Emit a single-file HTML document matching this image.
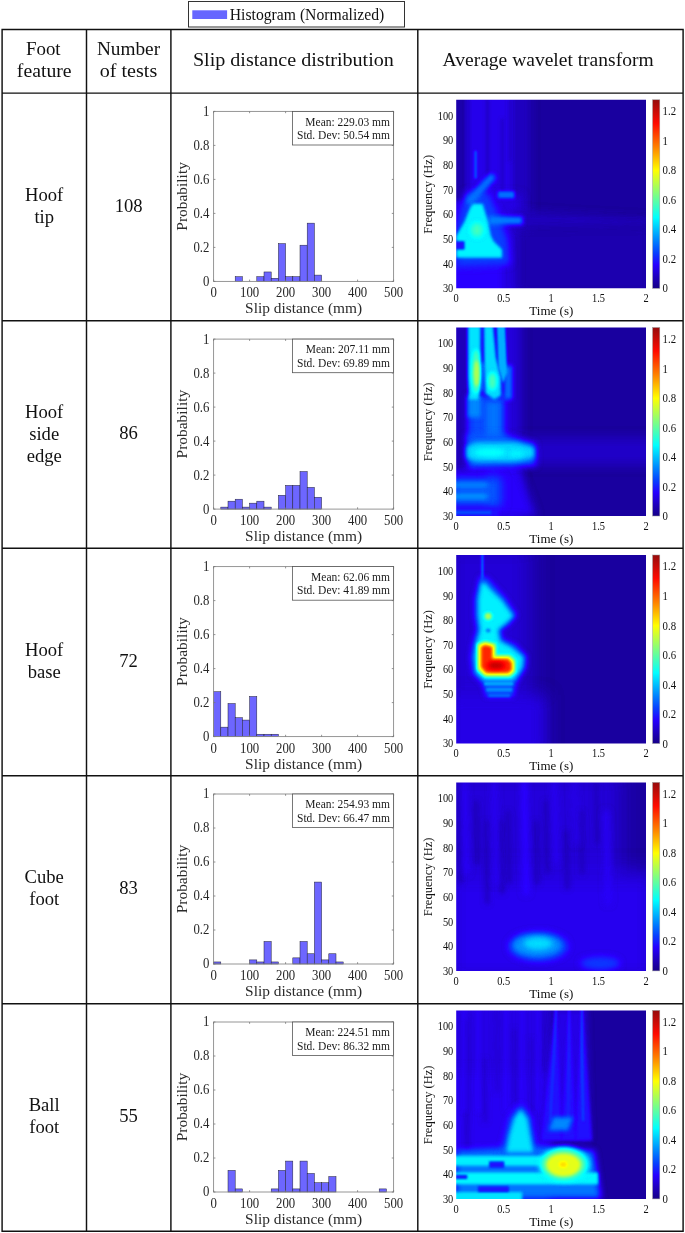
<!DOCTYPE html><html><head><meta charset="utf-8"><style>html,body{margin:0;padding:0;background:#fff;} svg{display:block;} text{font-family:'Liberation Serif', 'DejaVu Serif', serif;}</style></head><body>
<svg width="685" height="1233" viewBox="0 0 685 1233">
<defs>
<filter id="jet" x="0" y="0" width="1" height="1" color-interpolation-filters="sRGB"><feComponentTransfer><feFuncR type="table" tableValues="0.08 0.12 0.16 0.03 0 0 0 0.25 0.5 0.75 1 1 1 1 1 0.75 0.5"/><feFuncG type="table" tableValues="0 0 0 0.25 0.5 0.75 1 1 1 1 1 0.75 0.5 0.25 0 0 0"/><feFuncB type="table" tableValues="0.5 0.75 1 1 1 1 1 0.75 0.5 0.25 0 0 0 0 0 0 0"/></feComponentTransfer></filter>
<filter id="b0.8" filterUnits="userSpaceOnUse" x="-60" y="-60" width="320" height="320" color-interpolation-filters="sRGB"><feGaussianBlur stdDeviation="0.8"/></filter>
<filter id="b1" filterUnits="userSpaceOnUse" x="-60" y="-60" width="320" height="320" color-interpolation-filters="sRGB"><feGaussianBlur stdDeviation="1"/></filter>
<filter id="b1.2" filterUnits="userSpaceOnUse" x="-60" y="-60" width="320" height="320" color-interpolation-filters="sRGB"><feGaussianBlur stdDeviation="1.2"/></filter>
<filter id="b1.5" filterUnits="userSpaceOnUse" x="-60" y="-60" width="320" height="320" color-interpolation-filters="sRGB"><feGaussianBlur stdDeviation="1.5"/></filter>
<filter id="b1.7" filterUnits="userSpaceOnUse" x="-60" y="-60" width="320" height="320" color-interpolation-filters="sRGB"><feGaussianBlur stdDeviation="1.7"/></filter>
<filter id="b1.8" filterUnits="userSpaceOnUse" x="-60" y="-60" width="320" height="320" color-interpolation-filters="sRGB"><feGaussianBlur stdDeviation="1.8"/></filter>
<filter id="b2" filterUnits="userSpaceOnUse" x="-60" y="-60" width="320" height="320" color-interpolation-filters="sRGB"><feGaussianBlur stdDeviation="2"/></filter>
<filter id="b2.2" filterUnits="userSpaceOnUse" x="-60" y="-60" width="320" height="320" color-interpolation-filters="sRGB"><feGaussianBlur stdDeviation="2.2"/></filter>
<filter id="b2.5" filterUnits="userSpaceOnUse" x="-60" y="-60" width="320" height="320" color-interpolation-filters="sRGB"><feGaussianBlur stdDeviation="2.5"/></filter>
<filter id="b3" filterUnits="userSpaceOnUse" x="-60" y="-60" width="320" height="320" color-interpolation-filters="sRGB"><feGaussianBlur stdDeviation="3"/></filter>
<filter id="b3.5" filterUnits="userSpaceOnUse" x="-60" y="-60" width="320" height="320" color-interpolation-filters="sRGB"><feGaussianBlur stdDeviation="3.5"/></filter>
<filter id="b4" filterUnits="userSpaceOnUse" x="-60" y="-60" width="320" height="320" color-interpolation-filters="sRGB"><feGaussianBlur stdDeviation="4"/></filter>
<filter id="b5" filterUnits="userSpaceOnUse" x="-60" y="-60" width="320" height="320" color-interpolation-filters="sRGB"><feGaussianBlur stdDeviation="5"/></filter>
<filter id="b6" filterUnits="userSpaceOnUse" x="-60" y="-60" width="320" height="320" color-interpolation-filters="sRGB"><feGaussianBlur stdDeviation="6"/></filter>
<filter id="b8" filterUnits="userSpaceOnUse" x="-60" y="-60" width="320" height="320" color-interpolation-filters="sRGB"><feGaussianBlur stdDeviation="8"/></filter>
<filter id="b10" filterUnits="userSpaceOnUse" x="-60" y="-60" width="320" height="320" color-interpolation-filters="sRGB"><feGaussianBlur stdDeviation="10"/></filter>
<linearGradient id="cbar" x1="0" y1="1" x2="0" y2="0"><stop offset="0" stop-color="rgb(22,0,135)"/><stop offset="0.0625" stop-color="rgb(31,0,191)"/><stop offset="0.125" stop-color="rgb(38,0,255)"/><stop offset="0.1875" stop-color="rgb(8,64,255)"/><stop offset="0.25" stop-color="rgb(0,128,255)"/><stop offset="0.375" stop-color="rgb(0,255,255)"/><stop offset="0.5" stop-color="rgb(128,255,128)"/><stop offset="0.625" stop-color="rgb(255,255,0)"/><stop offset="0.75" stop-color="rgb(255,128,0)"/><stop offset="0.875" stop-color="rgb(255,10,0)"/><stop offset="1" stop-color="rgb(150,12,12)"/></linearGradient>
<clipPath id="hc0"><rect x="456.2" y="99.80" width="189.8" height="188.5"/></clipPath>
<clipPath id="hc1"><rect x="456.2" y="327.50" width="189.8" height="188.5"/></clipPath>
<clipPath id="hc2"><rect x="456.2" y="555.00" width="189.8" height="188.5"/></clipPath>
<clipPath id="hc3"><rect x="456.2" y="782.40" width="189.8" height="188.5"/></clipPath>
<clipPath id="hc4"><rect x="456.2" y="1010.40" width="189.8" height="188.5"/></clipPath>
</defs>
<rect x="188.5" y="1.5" width="216" height="25.5" fill="#fff" stroke="#333" stroke-width="1"/>
<rect x="192.3" y="10.3" width="34.8" height="8.7" fill="#6666ff"/>
<text x="229.80" y="19.70" font-size="16.3" text-anchor="start" textLength="154.5" lengthAdjust="spacingAndGlyphs" fill="#111">Histogram (Normalized)</text>
<text x="43.30" y="55.00" font-size="18.6" text-anchor="middle" textLength="34.6" lengthAdjust="spacingAndGlyphs" fill="#111">Foot</text>
<text x="44.20" y="77.00" font-size="18.6" text-anchor="middle" textLength="54.7" lengthAdjust="spacingAndGlyphs" fill="#111">feature</text>
<text x="128.50" y="55.00" font-size="18.6" text-anchor="middle" textLength="63.2" lengthAdjust="spacingAndGlyphs" fill="#111">Number</text>
<text x="128.50" y="76.80" font-size="18.6" text-anchor="middle" textLength="57.4" lengthAdjust="spacingAndGlyphs" fill="#111">of tests</text>
<text x="293.40" y="66.20" font-size="18.6" text-anchor="middle" textLength="201" lengthAdjust="spacingAndGlyphs" fill="#111">Slip distance distribution</text>
<text x="548.10" y="66.20" font-size="18.6" text-anchor="middle" textLength="211" lengthAdjust="spacingAndGlyphs" fill="#111">Average wavelet transform</text>
<text x="44.20" y="200.80" font-size="18.6" text-anchor="middle"  fill="#111">Hoof</text>
<text x="44.20" y="222.80" font-size="18.6" text-anchor="middle"  fill="#111">tip</text>
<text x="128.60" y="211.70" font-size="18.6" text-anchor="middle"  fill="#111">108</text>
<rect x="235.20" y="276.68" width="7.20" height="4.72" fill="#6d66ff" stroke="#223" stroke-width="0.5"/>
<rect x="256.80" y="276.68" width="7.20" height="4.72" fill="#6d66ff" stroke="#223" stroke-width="0.5"/>
<rect x="264.00" y="271.96" width="7.20" height="9.44" fill="#6d66ff" stroke="#223" stroke-width="0.5"/>
<rect x="271.20" y="278.25" width="7.20" height="3.15" fill="#6d66ff" stroke="#223" stroke-width="0.5"/>
<rect x="278.40" y="243.62" width="7.20" height="37.78" fill="#6d66ff" stroke="#223" stroke-width="0.5"/>
<rect x="285.60" y="276.68" width="7.20" height="4.72" fill="#6d66ff" stroke="#223" stroke-width="0.5"/>
<rect x="292.80" y="276.68" width="7.20" height="4.72" fill="#6d66ff" stroke="#223" stroke-width="0.5"/>
<rect x="300.00" y="245.20" width="7.20" height="36.20" fill="#6d66ff" stroke="#223" stroke-width="0.5"/>
<rect x="307.20" y="223.16" width="7.20" height="58.24" fill="#6d66ff" stroke="#223" stroke-width="0.5"/>
<rect x="314.40" y="275.10" width="7.20" height="6.30" fill="#6d66ff" stroke="#223" stroke-width="0.5"/>
<rect x="213.6" y="111.40" width="180" height="170" fill="none" stroke="#8a8a8a" stroke-width="0.9"/>
<text x="0.00" y="0.00" font-size="12.8" text-anchor="middle" fill="#262626" transform="translate(213.60 297.30) scale(1 1.1)">0</text>
<text x="0.00" y="0.00" font-size="12.8" text-anchor="middle" fill="#262626" transform="translate(249.60 297.30) scale(1 1.1)">100</text>
<text x="0.00" y="0.00" font-size="12.8" text-anchor="middle" fill="#262626" transform="translate(285.60 297.30) scale(1 1.1)">200</text>
<text x="0.00" y="0.00" font-size="12.8" text-anchor="middle" fill="#262626" transform="translate(321.60 297.30) scale(1 1.1)">300</text>
<text x="0.00" y="0.00" font-size="12.8" text-anchor="middle" fill="#262626" transform="translate(357.60 297.30) scale(1 1.1)">400</text>
<text x="0.00" y="0.00" font-size="12.8" text-anchor="middle" fill="#262626" transform="translate(393.60 297.30) scale(1 1.1)">500</text>
<text x="0.00" y="0.00" font-size="12.8" text-anchor="end" fill="#262626" transform="translate(209.4 285.80) scale(1 1.1)">0</text>
<text x="0.00" y="0.00" font-size="12.8" text-anchor="end" fill="#262626" transform="translate(209.4 251.80) scale(1 1.1)">0.2</text>
<text x="0.00" y="0.00" font-size="12.8" text-anchor="end" fill="#262626" transform="translate(209.4 217.80) scale(1 1.1)">0.4</text>
<text x="0.00" y="0.00" font-size="12.8" text-anchor="end" fill="#262626" transform="translate(209.4 183.80) scale(1 1.1)">0.6</text>
<text x="0.00" y="0.00" font-size="12.8" text-anchor="end" fill="#262626" transform="translate(209.4 149.80) scale(1 1.1)">0.8</text>
<text x="0.00" y="0.00" font-size="12.8" text-anchor="end" fill="#262626" transform="translate(209.4 115.80) scale(1 1.1)">1</text>
<path d="M213.60 281.40v-1.8M213.60 111.40v1.8M249.60 281.40v-1.8M249.60 111.40v1.8M285.60 281.40v-1.8M285.60 111.40v1.8M321.60 281.40v-1.8M321.60 111.40v1.8M357.60 281.40v-1.8M357.60 111.40v1.8M393.60 281.40v-1.8M393.60 111.40v1.8M213.6 281.40h1.8M393.6 281.40h-1.8M213.6 247.40h1.8M393.6 247.40h-1.8M213.6 213.40h1.8M393.6 213.40h-1.8M213.6 179.40h1.8M393.6 179.40h-1.8M213.6 145.40h1.8M393.6 145.40h-1.8M213.6 111.40h1.8M393.6 111.40h-1.8" stroke="#777" stroke-width="0.8" fill="none"/>
<rect x="292.4" y="111.40" width="101.2" height="33.6" fill="#fff" stroke="#555" stroke-width="0.8"/>
<text x="390.00" y="125.50" font-size="11.5" text-anchor="end" fill="#1a1a1a">Mean: 229.03 mm</text>
<text x="390.00" y="139.00" font-size="11.5" text-anchor="end" fill="#1a1a1a">Std. Dev: 50.54 mm</text>
<text x="303.60" y="313.30" font-size="15" text-anchor="middle" textLength="117" lengthAdjust="spacingAndGlyphs" fill="#2a2a2a">Slip distance (mm)</text>
<text x="0.00" y="0.00" font-size="15" text-anchor="middle" fill="#2a2a2a" textLength="68.6" lengthAdjust="spacingAndGlyphs" transform="translate(187.2 196.40) rotate(-90)">Probability</text>
<g clip-path="url(#hc0)"><g filter="url(#jet)" transform="translate(456.2 99.80)">
<rect x="-10" y="-10" width="209.8" height="208.5" fill="rgb(10,10,10)"/>
<rect x="-20" y="-20" width="230" height="230" fill="rgb(8,8,8)"/><rect x="8" y="-10" width="52" height="120" fill="rgb(27,27,27)" filter="url(#b3)"/><rect x="58" y="-10" width="16" height="200" fill="rgb(17,17,17)" filter="url(#b4)"/><rect x="-10" y="95" width="75" height="110" fill="rgb(26,26,26)" filter="url(#b4)"/><rect x="-10" y="-10" width="18" height="110" fill="rgb(11,11,11)" filter="url(#b2)"/><polyline points="12,0 12,90" fill="none" stroke="rgb(19,19,19)" stroke-width="3" stroke-linecap="round" filter="url(#b1.5)"/><polyline points="31,0 31,80" fill="none" stroke="rgb(18,18,18)" stroke-width="3" stroke-linecap="round" filter="url(#b1.5)"/><polyline points="46,20 46,90" fill="none" stroke="rgb(19,19,19)" stroke-width="3" stroke-linecap="round" filter="url(#b1.5)"/><polyline points="54,0 54,60" fill="none" stroke="rgb(20,20,20)" stroke-width="3" stroke-linecap="round" filter="url(#b1.5)"/><polygon points="55,111 120,115 195,119 195,126 120,128 55,129" fill="rgb(17,17,17)" filter="url(#b4)"/><polygon points="60,128 195,126 195,195 60,195" fill="rgb(12,12,12)" filter="url(#b6)"/><rect x="-10" y="163" width="56" height="30" fill="rgb(32,32,32)" filter="url(#b2.5)"/><polyline points="19.4,52 19.4,78" fill="none" stroke="rgb(56,56,56)" stroke-width="2.5" stroke-linecap="round" filter="url(#b1)"/><polygon points="10,92 32,92 44,118 52,140 54,165 0,167 0,128 4,110" fill="rgb(48,48,48)" filter="url(#b3.5)"/><polyline points="35,78 24,90 14,101" fill="none" stroke="rgb(61,61,61)" stroke-width="8" stroke-linecap="round" filter="url(#b2)"/><rect x="41.6" y="91.5" width="16.7" height="7" fill="rgb(61,61,61)" filter="url(#b1.5)"/><rect x="32" y="116.5" width="34.6" height="8.3" fill="rgb(64,64,64)" filter="url(#b2)"/><polygon points="16.6,104 26.4,104 31.9,122 34.7,135.9 37.4,141.4 45.8,149.7 45.8,158 0,158 0,135.9 8.3,122 13.9,108" fill="rgb(93,93,93)" filter="url(#b1.7)"/><rect x="-2" y="141.4" width="10.3" height="8.3" fill="rgb(36,36,36)" filter="url(#b1)"/><ellipse cx="20.8" cy="130.3" rx="6" ry="7" fill="rgb(112,112,112)" filter="url(#b2.5)"/>
</g></g>
<rect x="652.6" y="99.80" width="7.2" height="188.5" fill="url(#cbar)" stroke="#999" stroke-width="0.5"/>
<text x="0.00" y="0.00" font-size="10.4" text-anchor="end" transform="translate(453.3 292.20) scale(1 1.15)" fill="#111">30</text>
<text x="0.00" y="0.00" font-size="10.4" text-anchor="end" transform="translate(453.3 267.56) scale(1 1.15)" fill="#111">40</text>
<text x="0.00" y="0.00" font-size="10.4" text-anchor="end" transform="translate(453.3 242.92) scale(1 1.15)" fill="#111">50</text>
<text x="0.00" y="0.00" font-size="10.4" text-anchor="end" transform="translate(453.3 218.28) scale(1 1.15)" fill="#111">60</text>
<text x="0.00" y="0.00" font-size="10.4" text-anchor="end" transform="translate(453.3 193.64) scale(1 1.15)" fill="#111">70</text>
<text x="0.00" y="0.00" font-size="10.4" text-anchor="end" transform="translate(453.3 169.00) scale(1 1.15)" fill="#111">80</text>
<text x="0.00" y="0.00" font-size="10.4" text-anchor="end" transform="translate(453.3 144.36) scale(1 1.15)" fill="#111">90</text>
<text x="0.00" y="0.00" font-size="10.4" text-anchor="end" transform="translate(453.3 119.72) scale(1 1.15)" fill="#111">100</text>
<text x="0.00" y="0.00" font-size="10.4" text-anchor="middle" transform="translate(456.20 301.90) scale(1 1.15)" fill="#111">0</text>
<text x="0.00" y="0.00" font-size="10.4" text-anchor="middle" transform="translate(503.65 301.90) scale(1 1.15)" fill="#111">0.5</text>
<text x="0.00" y="0.00" font-size="10.4" text-anchor="middle" transform="translate(551.10 301.90) scale(1 1.15)" fill="#111">1</text>
<text x="0.00" y="0.00" font-size="10.4" text-anchor="middle" transform="translate(598.55 301.90) scale(1 1.15)" fill="#111">1.5</text>
<text x="0.00" y="0.00" font-size="10.4" text-anchor="middle" transform="translate(646.00 301.90) scale(1 1.15)" fill="#111">2</text>
<text x="0.00" y="0.00" font-size="10.8" text-anchor="start" transform="translate(662.6 292.40) scale(1 1.12)" fill="#111">0</text>
<text x="0.00" y="0.00" font-size="10.8" text-anchor="start" transform="translate(662.6 262.88) scale(1 1.12)" fill="#111">0.2</text>
<text x="0.00" y="0.00" font-size="10.8" text-anchor="start" transform="translate(662.6 233.36) scale(1 1.12)" fill="#111">0.4</text>
<text x="0.00" y="0.00" font-size="10.8" text-anchor="start" transform="translate(662.6 203.84) scale(1 1.12)" fill="#111">0.6</text>
<text x="0.00" y="0.00" font-size="10.8" text-anchor="start" transform="translate(662.6 174.32) scale(1 1.12)" fill="#111">0.8</text>
<text x="0.00" y="0.00" font-size="10.8" text-anchor="start" transform="translate(662.6 144.80) scale(1 1.12)" fill="#111">1</text>
<text x="0.00" y="0.00" font-size="10.8" text-anchor="start" transform="translate(662.6 115.28) scale(1 1.12)" fill="#111">1.2</text>
<text x="551.30" y="314.90" font-size="12.5" text-anchor="middle" textLength="44" lengthAdjust="spacingAndGlyphs" fill="#111">Time (s)</text>
<text x="0.00" y="0.00" font-size="12.5" text-anchor="middle" textLength="78.7" lengthAdjust="spacingAndGlyphs" transform="translate(431.6 194.30) rotate(-90)" fill="#111">Frequency (Hz)</text>
<text x="44.20" y="417.50" font-size="18.6" text-anchor="middle"  fill="#111">Hoof</text>
<text x="44.20" y="439.50" font-size="18.6" text-anchor="middle"  fill="#111">side</text>
<text x="44.20" y="461.50" font-size="18.6" text-anchor="middle"  fill="#111">edge</text>
<text x="128.60" y="439.40" font-size="18.6" text-anchor="middle"  fill="#111">86</text>
<rect x="220.80" y="507.12" width="7.20" height="1.98" fill="#6d66ff" stroke="#223" stroke-width="0.5"/>
<rect x="228.00" y="501.19" width="7.20" height="7.91" fill="#6d66ff" stroke="#223" stroke-width="0.5"/>
<rect x="235.20" y="499.22" width="7.20" height="9.88" fill="#6d66ff" stroke="#223" stroke-width="0.5"/>
<rect x="242.40" y="507.12" width="7.20" height="1.98" fill="#6d66ff" stroke="#223" stroke-width="0.5"/>
<rect x="249.60" y="503.17" width="7.20" height="5.93" fill="#6d66ff" stroke="#223" stroke-width="0.5"/>
<rect x="256.80" y="501.19" width="7.20" height="7.91" fill="#6d66ff" stroke="#223" stroke-width="0.5"/>
<rect x="264.00" y="507.12" width="7.20" height="1.98" fill="#6d66ff" stroke="#223" stroke-width="0.5"/>
<rect x="278.40" y="495.26" width="7.20" height="13.84" fill="#6d66ff" stroke="#223" stroke-width="0.5"/>
<rect x="285.60" y="485.38" width="7.20" height="23.72" fill="#6d66ff" stroke="#223" stroke-width="0.5"/>
<rect x="292.80" y="485.38" width="7.20" height="23.72" fill="#6d66ff" stroke="#223" stroke-width="0.5"/>
<rect x="300.00" y="471.54" width="7.20" height="37.56" fill="#6d66ff" stroke="#223" stroke-width="0.5"/>
<rect x="307.20" y="487.36" width="7.20" height="21.74" fill="#6d66ff" stroke="#223" stroke-width="0.5"/>
<rect x="314.40" y="497.24" width="7.20" height="11.86" fill="#6d66ff" stroke="#223" stroke-width="0.5"/>
<rect x="213.6" y="339.10" width="180" height="170" fill="none" stroke="#8a8a8a" stroke-width="0.9"/>
<text x="0.00" y="0.00" font-size="12.8" text-anchor="middle" fill="#262626" transform="translate(213.60 525.00) scale(1 1.1)">0</text>
<text x="0.00" y="0.00" font-size="12.8" text-anchor="middle" fill="#262626" transform="translate(249.60 525.00) scale(1 1.1)">100</text>
<text x="0.00" y="0.00" font-size="12.8" text-anchor="middle" fill="#262626" transform="translate(285.60 525.00) scale(1 1.1)">200</text>
<text x="0.00" y="0.00" font-size="12.8" text-anchor="middle" fill="#262626" transform="translate(321.60 525.00) scale(1 1.1)">300</text>
<text x="0.00" y="0.00" font-size="12.8" text-anchor="middle" fill="#262626" transform="translate(357.60 525.00) scale(1 1.1)">400</text>
<text x="0.00" y="0.00" font-size="12.8" text-anchor="middle" fill="#262626" transform="translate(393.60 525.00) scale(1 1.1)">500</text>
<text x="0.00" y="0.00" font-size="12.8" text-anchor="end" fill="#262626" transform="translate(209.4 513.50) scale(1 1.1)">0</text>
<text x="0.00" y="0.00" font-size="12.8" text-anchor="end" fill="#262626" transform="translate(209.4 479.50) scale(1 1.1)">0.2</text>
<text x="0.00" y="0.00" font-size="12.8" text-anchor="end" fill="#262626" transform="translate(209.4 445.50) scale(1 1.1)">0.4</text>
<text x="0.00" y="0.00" font-size="12.8" text-anchor="end" fill="#262626" transform="translate(209.4 411.50) scale(1 1.1)">0.6</text>
<text x="0.00" y="0.00" font-size="12.8" text-anchor="end" fill="#262626" transform="translate(209.4 377.50) scale(1 1.1)">0.8</text>
<text x="0.00" y="0.00" font-size="12.8" text-anchor="end" fill="#262626" transform="translate(209.4 343.50) scale(1 1.1)">1</text>
<path d="M213.60 509.10v-1.8M213.60 339.10v1.8M249.60 509.10v-1.8M249.60 339.10v1.8M285.60 509.10v-1.8M285.60 339.10v1.8M321.60 509.10v-1.8M321.60 339.10v1.8M357.60 509.10v-1.8M357.60 339.10v1.8M393.60 509.10v-1.8M393.60 339.10v1.8M213.6 509.10h1.8M393.6 509.10h-1.8M213.6 475.10h1.8M393.6 475.10h-1.8M213.6 441.10h1.8M393.6 441.10h-1.8M213.6 407.10h1.8M393.6 407.10h-1.8M213.6 373.10h1.8M393.6 373.10h-1.8M213.6 339.10h1.8M393.6 339.10h-1.8" stroke="#777" stroke-width="0.8" fill="none"/>
<rect x="292.4" y="339.10" width="101.2" height="33.6" fill="#fff" stroke="#555" stroke-width="0.8"/>
<text x="390.00" y="353.20" font-size="11.5" text-anchor="end" fill="#1a1a1a">Mean: 207.11 mm</text>
<text x="390.00" y="366.70" font-size="11.5" text-anchor="end" fill="#1a1a1a">Std. Dev: 69.89 mm</text>
<text x="303.60" y="541.00" font-size="15" text-anchor="middle" textLength="117" lengthAdjust="spacingAndGlyphs" fill="#2a2a2a">Slip distance (mm)</text>
<text x="0.00" y="0.00" font-size="15" text-anchor="middle" fill="#2a2a2a" textLength="68.6" lengthAdjust="spacingAndGlyphs" transform="translate(187.2 424.10) rotate(-90)">Probability</text>
<g clip-path="url(#hc1)"><g filter="url(#jet)" transform="translate(456.2 327.50)">
<rect x="-10" y="-10" width="209.8" height="208.5" fill="rgb(10,10,10)"/>
<rect x="-20" y="-20" width="230" height="230" fill="rgb(8,8,8)"/><rect x="-10" y="-10" width="75" height="210" fill="rgb(23,23,23)" filter="url(#b5)"/><rect x="-10" y="-10" width="21" height="150" fill="rgb(15,15,15)" filter="url(#b2.5)"/><rect x="60" y="110" width="140" height="28" fill="rgb(18,18,18)" filter="url(#b5)"/><polygon points="30,140 62,140 80,189 30,189" fill="rgb(31,31,31)" filter="url(#b4)"/><rect x="11.7" y="68" width="37" height="45" fill="rgb(51,51,51)" filter="url(#b3)"/><rect x="11.7" y="68" width="13" height="22" fill="rgb(66,66,66)" filter="url(#b2)"/><rect x="30" y="75" width="14" height="38" fill="rgb(61,61,61)" filter="url(#b2.5)"/><rect x="24.5" y="35" width="4" height="30" fill="rgb(51,51,51)" filter="url(#b1.5)"/><rect x="48" y="38" width="8" height="34" fill="rgb(61,61,61)" filter="url(#b2)"/><polygon points="11.7,-2 24.5,-2 24.5,60 22,72 13,72 11.7,50" fill="rgb(89,89,89)" filter="url(#b1.5)"/><polygon points="27.5,-2 37,-2 40,30 45,50 45,68 38,72 29,66 28,40" fill="rgb(87,87,87)" filter="url(#b1.5)"/><polygon points="40.5,-2 49,-2 51,45 47,56 42,40" fill="rgb(76,76,76)" filter="url(#b1.2)"/><ellipse cx="20" cy="44" rx="4" ry="22" fill="rgb(117,117,117)" filter="url(#b2)"/><ellipse cx="20.4" cy="46" rx="2.8" ry="13" fill="rgb(140,140,140)" filter="url(#b1.5)"/><ellipse cx="36.2" cy="53.7" rx="4" ry="9" fill="rgb(115,115,115)" filter="url(#b2)"/><polygon points="10,108 44,106 79,116 80,138 12,141" fill="rgb(56,56,56)" filter="url(#b3)"/><polygon points="10,119 20,115 60,115 78,120 78,130 60,134 20,134 10,131" fill="rgb(87,87,87)" filter="url(#b2.5)"/><ellipse cx="34" cy="125" rx="16" ry="4" fill="rgb(97,97,97)" filter="url(#b2)"/><ellipse cx="60" cy="126" rx="8" ry="3" fill="rgb(94,94,94)" filter="url(#b2)"/><rect x="-5" y="149.4" width="50" height="30" fill="rgb(54,54,54)" filter="url(#b5)"/><rect x="-5" y="155" width="36" height="5" fill="rgb(66,66,66)" filter="url(#b2)"/><rect x="-5" y="166" width="36" height="6" fill="rgb(69,69,69)" filter="url(#b2)"/><rect x="-5" y="180" width="48" height="10" fill="rgb(36,36,36)" filter="url(#b1.5)"/><rect x="-5" y="183" width="40" height="4" fill="rgb(51,51,51)" filter="url(#b1)"/>
</g></g>
<rect x="652.6" y="327.50" width="7.2" height="188.5" fill="url(#cbar)" stroke="#999" stroke-width="0.5"/>
<text x="0.00" y="0.00" font-size="10.4" text-anchor="end" transform="translate(453.3 519.90) scale(1 1.15)" fill="#111">30</text>
<text x="0.00" y="0.00" font-size="10.4" text-anchor="end" transform="translate(453.3 495.26) scale(1 1.15)" fill="#111">40</text>
<text x="0.00" y="0.00" font-size="10.4" text-anchor="end" transform="translate(453.3 470.62) scale(1 1.15)" fill="#111">50</text>
<text x="0.00" y="0.00" font-size="10.4" text-anchor="end" transform="translate(453.3 445.98) scale(1 1.15)" fill="#111">60</text>
<text x="0.00" y="0.00" font-size="10.4" text-anchor="end" transform="translate(453.3 421.34) scale(1 1.15)" fill="#111">70</text>
<text x="0.00" y="0.00" font-size="10.4" text-anchor="end" transform="translate(453.3 396.70) scale(1 1.15)" fill="#111">80</text>
<text x="0.00" y="0.00" font-size="10.4" text-anchor="end" transform="translate(453.3 372.06) scale(1 1.15)" fill="#111">90</text>
<text x="0.00" y="0.00" font-size="10.4" text-anchor="end" transform="translate(453.3 347.42) scale(1 1.15)" fill="#111">100</text>
<text x="0.00" y="0.00" font-size="10.4" text-anchor="middle" transform="translate(456.20 529.60) scale(1 1.15)" fill="#111">0</text>
<text x="0.00" y="0.00" font-size="10.4" text-anchor="middle" transform="translate(503.65 529.60) scale(1 1.15)" fill="#111">0.5</text>
<text x="0.00" y="0.00" font-size="10.4" text-anchor="middle" transform="translate(551.10 529.60) scale(1 1.15)" fill="#111">1</text>
<text x="0.00" y="0.00" font-size="10.4" text-anchor="middle" transform="translate(598.55 529.60) scale(1 1.15)" fill="#111">1.5</text>
<text x="0.00" y="0.00" font-size="10.4" text-anchor="middle" transform="translate(646.00 529.60) scale(1 1.15)" fill="#111">2</text>
<text x="0.00" y="0.00" font-size="10.8" text-anchor="start" transform="translate(662.6 520.10) scale(1 1.12)" fill="#111">0</text>
<text x="0.00" y="0.00" font-size="10.8" text-anchor="start" transform="translate(662.6 490.58) scale(1 1.12)" fill="#111">0.2</text>
<text x="0.00" y="0.00" font-size="10.8" text-anchor="start" transform="translate(662.6 461.06) scale(1 1.12)" fill="#111">0.4</text>
<text x="0.00" y="0.00" font-size="10.8" text-anchor="start" transform="translate(662.6 431.54) scale(1 1.12)" fill="#111">0.6</text>
<text x="0.00" y="0.00" font-size="10.8" text-anchor="start" transform="translate(662.6 402.02) scale(1 1.12)" fill="#111">0.8</text>
<text x="0.00" y="0.00" font-size="10.8" text-anchor="start" transform="translate(662.6 372.50) scale(1 1.12)" fill="#111">1</text>
<text x="0.00" y="0.00" font-size="10.8" text-anchor="start" transform="translate(662.6 342.98) scale(1 1.12)" fill="#111">1.2</text>
<text x="551.30" y="542.60" font-size="12.5" text-anchor="middle" textLength="44" lengthAdjust="spacingAndGlyphs" fill="#111">Time (s)</text>
<text x="0.00" y="0.00" font-size="12.5" text-anchor="middle" textLength="78.7" lengthAdjust="spacingAndGlyphs" transform="translate(431.6 422.00) rotate(-90)" fill="#111">Frequency (Hz)</text>
<text x="44.20" y="656.00" font-size="18.6" text-anchor="middle"  fill="#111">Hoof</text>
<text x="44.20" y="678.00" font-size="18.6" text-anchor="middle"  fill="#111">base</text>
<text x="128.60" y="666.90" font-size="18.6" text-anchor="middle"  fill="#111">72</text>
<rect x="213.60" y="691.74" width="7.20" height="44.86" fill="#6d66ff" stroke="#223" stroke-width="0.5"/>
<rect x="220.80" y="727.16" width="7.20" height="9.44" fill="#6d66ff" stroke="#223" stroke-width="0.5"/>
<rect x="228.00" y="703.54" width="7.20" height="33.06" fill="#6d66ff" stroke="#223" stroke-width="0.5"/>
<rect x="235.20" y="717.71" width="7.20" height="18.89" fill="#6d66ff" stroke="#223" stroke-width="0.5"/>
<rect x="242.40" y="720.07" width="7.20" height="16.53" fill="#6d66ff" stroke="#223" stroke-width="0.5"/>
<rect x="249.60" y="696.46" width="7.20" height="40.14" fill="#6d66ff" stroke="#223" stroke-width="0.5"/>
<rect x="256.80" y="734.24" width="7.20" height="2.36" fill="#6d66ff" stroke="#223" stroke-width="0.5"/>
<rect x="264.00" y="734.24" width="7.20" height="2.36" fill="#6d66ff" stroke="#223" stroke-width="0.5"/>
<rect x="271.20" y="734.24" width="7.20" height="2.36" fill="#6d66ff" stroke="#223" stroke-width="0.5"/>
<rect x="213.6" y="566.60" width="180" height="170" fill="none" stroke="#8a8a8a" stroke-width="0.9"/>
<text x="0.00" y="0.00" font-size="12.8" text-anchor="middle" fill="#262626" transform="translate(213.60 752.50) scale(1 1.1)">0</text>
<text x="0.00" y="0.00" font-size="12.8" text-anchor="middle" fill="#262626" transform="translate(249.60 752.50) scale(1 1.1)">100</text>
<text x="0.00" y="0.00" font-size="12.8" text-anchor="middle" fill="#262626" transform="translate(285.60 752.50) scale(1 1.1)">200</text>
<text x="0.00" y="0.00" font-size="12.8" text-anchor="middle" fill="#262626" transform="translate(321.60 752.50) scale(1 1.1)">300</text>
<text x="0.00" y="0.00" font-size="12.8" text-anchor="middle" fill="#262626" transform="translate(357.60 752.50) scale(1 1.1)">400</text>
<text x="0.00" y="0.00" font-size="12.8" text-anchor="middle" fill="#262626" transform="translate(393.60 752.50) scale(1 1.1)">500</text>
<text x="0.00" y="0.00" font-size="12.8" text-anchor="end" fill="#262626" transform="translate(209.4 741.00) scale(1 1.1)">0</text>
<text x="0.00" y="0.00" font-size="12.8" text-anchor="end" fill="#262626" transform="translate(209.4 707.00) scale(1 1.1)">0.2</text>
<text x="0.00" y="0.00" font-size="12.8" text-anchor="end" fill="#262626" transform="translate(209.4 673.00) scale(1 1.1)">0.4</text>
<text x="0.00" y="0.00" font-size="12.8" text-anchor="end" fill="#262626" transform="translate(209.4 639.00) scale(1 1.1)">0.6</text>
<text x="0.00" y="0.00" font-size="12.8" text-anchor="end" fill="#262626" transform="translate(209.4 605.00) scale(1 1.1)">0.8</text>
<text x="0.00" y="0.00" font-size="12.8" text-anchor="end" fill="#262626" transform="translate(209.4 571.00) scale(1 1.1)">1</text>
<path d="M213.60 736.60v-1.8M213.60 566.60v1.8M249.60 736.60v-1.8M249.60 566.60v1.8M285.60 736.60v-1.8M285.60 566.60v1.8M321.60 736.60v-1.8M321.60 566.60v1.8M357.60 736.60v-1.8M357.60 566.60v1.8M393.60 736.60v-1.8M393.60 566.60v1.8M213.6 736.60h1.8M393.6 736.60h-1.8M213.6 702.60h1.8M393.6 702.60h-1.8M213.6 668.60h1.8M393.6 668.60h-1.8M213.6 634.60h1.8M393.6 634.60h-1.8M213.6 600.60h1.8M393.6 600.60h-1.8M213.6 566.60h1.8M393.6 566.60h-1.8" stroke="#777" stroke-width="0.8" fill="none"/>
<rect x="292.4" y="566.60" width="101.2" height="33.6" fill="#fff" stroke="#555" stroke-width="0.8"/>
<text x="390.00" y="580.70" font-size="11.5" text-anchor="end" fill="#1a1a1a">Mean: 62.06 mm</text>
<text x="390.00" y="594.20" font-size="11.5" text-anchor="end" fill="#1a1a1a">Std. Dev: 41.89 mm</text>
<text x="303.60" y="768.50" font-size="15" text-anchor="middle" textLength="117" lengthAdjust="spacingAndGlyphs" fill="#2a2a2a">Slip distance (mm)</text>
<text x="0.00" y="0.00" font-size="15" text-anchor="middle" fill="#2a2a2a" textLength="68.6" lengthAdjust="spacingAndGlyphs" transform="translate(187.2 651.60) rotate(-90)">Probability</text>
<g clip-path="url(#hc2)"><g filter="url(#jet)" transform="translate(456.2 555.00)">
<rect x="-10" y="-10" width="209.8" height="208.5" fill="rgb(10,10,10)"/>
<rect x="-20" y="-20" width="230" height="230" fill="rgb(8,8,8)"/><rect x="-10" y="-10" width="85" height="210" fill="rgb(22,22,22)" filter="url(#b10)"/><rect x="-10" y="140" width="100" height="60" fill="rgb(26,26,26)" filter="url(#b8)"/><polyline points="26.2,-2 26.2,34" fill="none" stroke="rgb(76,76,76)" stroke-width="1.8" stroke-linecap="round" filter="url(#b0.8)"/><polygon points="23,22 31,22 49,42 61,60 53,70 45,75 47,84 59,89 71,101 70,113 66,119 60,129 57,142 30,142 26,129 16,119 14,102 16,88.5 20,74.8 18,61 18,43.7" fill="rgb(51,51,51)" filter="url(#b2.5)"/><polygon points="25,28 29,28 36,36 45.5,45 57,61 50,68 41.7,74.8 43.6,86 55,92 67,102 66,112 63,117.7 57,125.5 28,125.5 20,117.7 18.3,102 20,88.5 24,74.8 22,61 22,43.7" fill="rgb(92,92,92)" filter="url(#b2)"/><ellipse cx="32" cy="61.2" rx="3.5" ry="3.5" fill="rgb(140,140,140)" filter="url(#b1.5)"/><ellipse cx="32" cy="75.6" rx="2.5" ry="2" fill="rgb(64,64,64)" filter="url(#b1)"/><polygon points="21,88.5 29,86 39.8,88.5 40,100 54,100 59.3,105 59.3,117 54,121.7 29,121.7 21,115" fill="rgb(128,128,128)" filter="url(#b1.8)"/><polygon points="22.5,90 29,87.5 38.3,90 38.5,101.5 53,101.5 57.8,106 57.8,116 53,120.2 29,120.2 22.5,114" fill="rgb(158,158,158)" filter="url(#b1.8)"/><polygon points="25,92 29,90 35.8,92 36,104 52,104 55.3,108 55.3,115 52,117.7 30,117.7 25,112" fill="rgb(214,214,214)" filter="url(#b1.8)"/><ellipse cx="40" cy="110.5" rx="9" ry="3.5" fill="rgb(242,242,242)" filter="url(#b2.5)"/><rect x="28" y="127" width="29" height="3.5" fill="rgb(76,76,76)" filter="url(#b1)"/><rect x="30" y="133" width="26" height="3.5" fill="rgb(69,69,69)" filter="url(#b1)"/><rect x="32" y="139" width="22" height="3" fill="rgb(59,59,59)" filter="url(#b1)"/>
</g></g>
<rect x="652.6" y="555.00" width="7.2" height="188.5" fill="url(#cbar)" stroke="#999" stroke-width="0.5"/>
<text x="0.00" y="0.00" font-size="10.4" text-anchor="end" transform="translate(453.3 747.40) scale(1 1.15)" fill="#111">30</text>
<text x="0.00" y="0.00" font-size="10.4" text-anchor="end" transform="translate(453.3 722.76) scale(1 1.15)" fill="#111">40</text>
<text x="0.00" y="0.00" font-size="10.4" text-anchor="end" transform="translate(453.3 698.12) scale(1 1.15)" fill="#111">50</text>
<text x="0.00" y="0.00" font-size="10.4" text-anchor="end" transform="translate(453.3 673.48) scale(1 1.15)" fill="#111">60</text>
<text x="0.00" y="0.00" font-size="10.4" text-anchor="end" transform="translate(453.3 648.84) scale(1 1.15)" fill="#111">70</text>
<text x="0.00" y="0.00" font-size="10.4" text-anchor="end" transform="translate(453.3 624.20) scale(1 1.15)" fill="#111">80</text>
<text x="0.00" y="0.00" font-size="10.4" text-anchor="end" transform="translate(453.3 599.56) scale(1 1.15)" fill="#111">90</text>
<text x="0.00" y="0.00" font-size="10.4" text-anchor="end" transform="translate(453.3 574.92) scale(1 1.15)" fill="#111">100</text>
<text x="0.00" y="0.00" font-size="10.4" text-anchor="middle" transform="translate(456.20 757.10) scale(1 1.15)" fill="#111">0</text>
<text x="0.00" y="0.00" font-size="10.4" text-anchor="middle" transform="translate(503.65 757.10) scale(1 1.15)" fill="#111">0.5</text>
<text x="0.00" y="0.00" font-size="10.4" text-anchor="middle" transform="translate(551.10 757.10) scale(1 1.15)" fill="#111">1</text>
<text x="0.00" y="0.00" font-size="10.4" text-anchor="middle" transform="translate(598.55 757.10) scale(1 1.15)" fill="#111">1.5</text>
<text x="0.00" y="0.00" font-size="10.4" text-anchor="middle" transform="translate(646.00 757.10) scale(1 1.15)" fill="#111">2</text>
<text x="0.00" y="0.00" font-size="10.8" text-anchor="start" transform="translate(662.6 747.60) scale(1 1.12)" fill="#111">0</text>
<text x="0.00" y="0.00" font-size="10.8" text-anchor="start" transform="translate(662.6 718.08) scale(1 1.12)" fill="#111">0.2</text>
<text x="0.00" y="0.00" font-size="10.8" text-anchor="start" transform="translate(662.6 688.56) scale(1 1.12)" fill="#111">0.4</text>
<text x="0.00" y="0.00" font-size="10.8" text-anchor="start" transform="translate(662.6 659.04) scale(1 1.12)" fill="#111">0.6</text>
<text x="0.00" y="0.00" font-size="10.8" text-anchor="start" transform="translate(662.6 629.52) scale(1 1.12)" fill="#111">0.8</text>
<text x="0.00" y="0.00" font-size="10.8" text-anchor="start" transform="translate(662.6 600.00) scale(1 1.12)" fill="#111">1</text>
<text x="0.00" y="0.00" font-size="10.8" text-anchor="start" transform="translate(662.6 570.48) scale(1 1.12)" fill="#111">1.2</text>
<text x="551.30" y="770.10" font-size="12.5" text-anchor="middle" textLength="44" lengthAdjust="spacingAndGlyphs" fill="#111">Time (s)</text>
<text x="0.00" y="0.00" font-size="12.5" text-anchor="middle" textLength="78.7" lengthAdjust="spacingAndGlyphs" transform="translate(431.6 649.50) rotate(-90)" fill="#111">Frequency (Hz)</text>
<text x="44.20" y="883.40" font-size="18.6" text-anchor="middle"  fill="#111">Cube</text>
<text x="44.20" y="905.40" font-size="18.6" text-anchor="middle"  fill="#111">foot</text>
<text x="128.60" y="894.30" font-size="18.6" text-anchor="middle"  fill="#111">83</text>
<rect x="213.60" y="961.95" width="7.20" height="2.05" fill="#6d66ff" stroke="#223" stroke-width="0.5"/>
<rect x="249.60" y="959.90" width="7.20" height="4.10" fill="#6d66ff" stroke="#223" stroke-width="0.5"/>
<rect x="256.80" y="961.95" width="7.20" height="2.05" fill="#6d66ff" stroke="#223" stroke-width="0.5"/>
<rect x="264.00" y="941.47" width="7.20" height="22.53" fill="#6d66ff" stroke="#223" stroke-width="0.5"/>
<rect x="271.20" y="961.95" width="7.20" height="2.05" fill="#6d66ff" stroke="#223" stroke-width="0.5"/>
<rect x="292.80" y="957.86" width="7.20" height="6.14" fill="#6d66ff" stroke="#223" stroke-width="0.5"/>
<rect x="300.00" y="941.47" width="7.20" height="22.53" fill="#6d66ff" stroke="#223" stroke-width="0.5"/>
<rect x="307.20" y="953.76" width="7.20" height="10.24" fill="#6d66ff" stroke="#223" stroke-width="0.5"/>
<rect x="314.40" y="882.07" width="7.20" height="81.93" fill="#6d66ff" stroke="#223" stroke-width="0.5"/>
<rect x="321.60" y="959.90" width="7.20" height="4.10" fill="#6d66ff" stroke="#223" stroke-width="0.5"/>
<rect x="328.80" y="953.76" width="7.20" height="10.24" fill="#6d66ff" stroke="#223" stroke-width="0.5"/>
<rect x="336.00" y="961.95" width="7.20" height="2.05" fill="#6d66ff" stroke="#223" stroke-width="0.5"/>
<rect x="213.6" y="794.00" width="180" height="170" fill="none" stroke="#8a8a8a" stroke-width="0.9"/>
<text x="0.00" y="0.00" font-size="12.8" text-anchor="middle" fill="#262626" transform="translate(213.60 979.90) scale(1 1.1)">0</text>
<text x="0.00" y="0.00" font-size="12.8" text-anchor="middle" fill="#262626" transform="translate(249.60 979.90) scale(1 1.1)">100</text>
<text x="0.00" y="0.00" font-size="12.8" text-anchor="middle" fill="#262626" transform="translate(285.60 979.90) scale(1 1.1)">200</text>
<text x="0.00" y="0.00" font-size="12.8" text-anchor="middle" fill="#262626" transform="translate(321.60 979.90) scale(1 1.1)">300</text>
<text x="0.00" y="0.00" font-size="12.8" text-anchor="middle" fill="#262626" transform="translate(357.60 979.90) scale(1 1.1)">400</text>
<text x="0.00" y="0.00" font-size="12.8" text-anchor="middle" fill="#262626" transform="translate(393.60 979.90) scale(1 1.1)">500</text>
<text x="0.00" y="0.00" font-size="12.8" text-anchor="end" fill="#262626" transform="translate(209.4 968.40) scale(1 1.1)">0</text>
<text x="0.00" y="0.00" font-size="12.8" text-anchor="end" fill="#262626" transform="translate(209.4 934.40) scale(1 1.1)">0.2</text>
<text x="0.00" y="0.00" font-size="12.8" text-anchor="end" fill="#262626" transform="translate(209.4 900.40) scale(1 1.1)">0.4</text>
<text x="0.00" y="0.00" font-size="12.8" text-anchor="end" fill="#262626" transform="translate(209.4 866.40) scale(1 1.1)">0.6</text>
<text x="0.00" y="0.00" font-size="12.8" text-anchor="end" fill="#262626" transform="translate(209.4 832.40) scale(1 1.1)">0.8</text>
<text x="0.00" y="0.00" font-size="12.8" text-anchor="end" fill="#262626" transform="translate(209.4 798.40) scale(1 1.1)">1</text>
<path d="M213.60 964.00v-1.8M213.60 794.00v1.8M249.60 964.00v-1.8M249.60 794.00v1.8M285.60 964.00v-1.8M285.60 794.00v1.8M321.60 964.00v-1.8M321.60 794.00v1.8M357.60 964.00v-1.8M357.60 794.00v1.8M393.60 964.00v-1.8M393.60 794.00v1.8M213.6 964.00h1.8M393.6 964.00h-1.8M213.6 930.00h1.8M393.6 930.00h-1.8M213.6 896.00h1.8M393.6 896.00h-1.8M213.6 862.00h1.8M393.6 862.00h-1.8M213.6 828.00h1.8M393.6 828.00h-1.8M213.6 794.00h1.8M393.6 794.00h-1.8" stroke="#777" stroke-width="0.8" fill="none"/>
<rect x="292.4" y="794.00" width="101.2" height="33.6" fill="#fff" stroke="#555" stroke-width="0.8"/>
<text x="390.00" y="808.10" font-size="11.5" text-anchor="end" fill="#1a1a1a">Mean: 254.93 mm</text>
<text x="390.00" y="821.60" font-size="11.5" text-anchor="end" fill="#1a1a1a">Std. Dev: 66.47 mm</text>
<text x="303.60" y="995.90" font-size="15" text-anchor="middle" textLength="117" lengthAdjust="spacingAndGlyphs" fill="#2a2a2a">Slip distance (mm)</text>
<text x="0.00" y="0.00" font-size="15" text-anchor="middle" fill="#2a2a2a" textLength="68.6" lengthAdjust="spacingAndGlyphs" transform="translate(187.2 879.00) rotate(-90)">Probability</text>
<g clip-path="url(#hc3)"><g filter="url(#jet)" transform="translate(456.2 782.40)">
<rect x="-10" y="-10" width="209.8" height="208.5" fill="rgb(10,10,10)"/>
<rect x="-20" y="-20" width="230" height="230" fill="rgb(9,9,9)"/><rect x="-10" y="-10" width="175" height="115" fill="rgb(23,23,23)" filter="url(#b10)"/><rect x="-10" y="90" width="210" height="110" fill="rgb(28,28,28)" filter="url(#b10)"/><polyline points="3,0 4,100" fill="none" stroke="rgb(15,15,15)" stroke-width="4" stroke-linecap="round" filter="url(#b2.5)"/><polyline points="20,20 21,80" fill="none" stroke="rgb(13,13,13)" stroke-width="4" stroke-linecap="round" filter="url(#b2.5)"/><polyline points="30,40 31,120" fill="none" stroke="rgb(15,15,15)" stroke-width="4" stroke-linecap="round" filter="url(#b2.5)"/><polyline points="45,40 46,110" fill="none" stroke="rgb(14,14,14)" stroke-width="4" stroke-linecap="round" filter="url(#b2.5)"/><polyline points="52,30 53,100" fill="none" stroke="rgb(15,15,15)" stroke-width="4" stroke-linecap="round" filter="url(#b2.5)"/><polyline points="80,40 81,100" fill="none" stroke="rgb(14,14,14)" stroke-width="4" stroke-linecap="round" filter="url(#b2.5)"/><polyline points="90,20 91,90" fill="none" stroke="rgb(15,15,15)" stroke-width="4" stroke-linecap="round" filter="url(#b2.5)"/><polyline points="110,50 111,105" fill="none" stroke="rgb(14,14,14)" stroke-width="4" stroke-linecap="round" filter="url(#b2.5)"/><polyline points="125,30 126,90" fill="none" stroke="rgb(15,15,15)" stroke-width="4" stroke-linecap="round" filter="url(#b2.5)"/><polyline points="140,0 141,60" fill="none" stroke="rgb(15,15,15)" stroke-width="4" stroke-linecap="round" filter="url(#b2.5)"/><polyline points="8,0 10,90" fill="none" stroke="rgb(33,33,33)" stroke-width="5" stroke-linecap="round" filter="url(#b3)"/><polyline points="38,0 40,100" fill="none" stroke="rgb(31,31,31)" stroke-width="5" stroke-linecap="round" filter="url(#b3)"/><polyline points="68,0 70,110" fill="none" stroke="rgb(38,38,38)" stroke-width="5" stroke-linecap="round" filter="url(#b3)"/><polyline points="98,0 100,80" fill="none" stroke="rgb(31,31,31)" stroke-width="5" stroke-linecap="round" filter="url(#b3)"/><polyline points="118,0 120,60" fill="none" stroke="rgb(28,28,28)" stroke-width="5" stroke-linecap="round" filter="url(#b3)"/><polyline points="150,30 152,120" fill="none" stroke="rgb(33,33,33)" stroke-width="5" stroke-linecap="round" filter="url(#b3)"/><ellipse cx="82" cy="164" rx="30" ry="15" fill="rgb(51,51,51)" filter="url(#b3)"/><ellipse cx="81" cy="163" rx="24" ry="11" fill="rgb(69,69,69)" filter="url(#b2.5)"/><ellipse cx="82" cy="161" rx="14" ry="6" fill="rgb(87,87,87)" filter="url(#b2.5)"/><ellipse cx="144" cy="181" rx="20" ry="7" fill="rgb(46,46,46)" filter="url(#b3)"/>
</g></g>
<rect x="652.6" y="782.40" width="7.2" height="188.5" fill="url(#cbar)" stroke="#999" stroke-width="0.5"/>
<text x="0.00" y="0.00" font-size="10.4" text-anchor="end" transform="translate(453.3 974.80) scale(1 1.15)" fill="#111">30</text>
<text x="0.00" y="0.00" font-size="10.4" text-anchor="end" transform="translate(453.3 950.16) scale(1 1.15)" fill="#111">40</text>
<text x="0.00" y="0.00" font-size="10.4" text-anchor="end" transform="translate(453.3 925.52) scale(1 1.15)" fill="#111">50</text>
<text x="0.00" y="0.00" font-size="10.4" text-anchor="end" transform="translate(453.3 900.88) scale(1 1.15)" fill="#111">60</text>
<text x="0.00" y="0.00" font-size="10.4" text-anchor="end" transform="translate(453.3 876.24) scale(1 1.15)" fill="#111">70</text>
<text x="0.00" y="0.00" font-size="10.4" text-anchor="end" transform="translate(453.3 851.60) scale(1 1.15)" fill="#111">80</text>
<text x="0.00" y="0.00" font-size="10.4" text-anchor="end" transform="translate(453.3 826.96) scale(1 1.15)" fill="#111">90</text>
<text x="0.00" y="0.00" font-size="10.4" text-anchor="end" transform="translate(453.3 802.32) scale(1 1.15)" fill="#111">100</text>
<text x="0.00" y="0.00" font-size="10.4" text-anchor="middle" transform="translate(456.20 984.50) scale(1 1.15)" fill="#111">0</text>
<text x="0.00" y="0.00" font-size="10.4" text-anchor="middle" transform="translate(503.65 984.50) scale(1 1.15)" fill="#111">0.5</text>
<text x="0.00" y="0.00" font-size="10.4" text-anchor="middle" transform="translate(551.10 984.50) scale(1 1.15)" fill="#111">1</text>
<text x="0.00" y="0.00" font-size="10.4" text-anchor="middle" transform="translate(598.55 984.50) scale(1 1.15)" fill="#111">1.5</text>
<text x="0.00" y="0.00" font-size="10.4" text-anchor="middle" transform="translate(646.00 984.50) scale(1 1.15)" fill="#111">2</text>
<text x="0.00" y="0.00" font-size="10.8" text-anchor="start" transform="translate(662.6 975.00) scale(1 1.12)" fill="#111">0</text>
<text x="0.00" y="0.00" font-size="10.8" text-anchor="start" transform="translate(662.6 945.48) scale(1 1.12)" fill="#111">0.2</text>
<text x="0.00" y="0.00" font-size="10.8" text-anchor="start" transform="translate(662.6 915.96) scale(1 1.12)" fill="#111">0.4</text>
<text x="0.00" y="0.00" font-size="10.8" text-anchor="start" transform="translate(662.6 886.44) scale(1 1.12)" fill="#111">0.6</text>
<text x="0.00" y="0.00" font-size="10.8" text-anchor="start" transform="translate(662.6 856.92) scale(1 1.12)" fill="#111">0.8</text>
<text x="0.00" y="0.00" font-size="10.8" text-anchor="start" transform="translate(662.6 827.40) scale(1 1.12)" fill="#111">1</text>
<text x="0.00" y="0.00" font-size="10.8" text-anchor="start" transform="translate(662.6 797.88) scale(1 1.12)" fill="#111">1.2</text>
<text x="551.30" y="997.50" font-size="12.5" text-anchor="middle" textLength="44" lengthAdjust="spacingAndGlyphs" fill="#111">Time (s)</text>
<text x="0.00" y="0.00" font-size="12.5" text-anchor="middle" textLength="78.7" lengthAdjust="spacingAndGlyphs" transform="translate(431.6 876.90) rotate(-90)" fill="#111">Frequency (Hz)</text>
<text x="44.20" y="1111.40" font-size="18.6" text-anchor="middle"  fill="#111">Ball</text>
<text x="44.20" y="1133.40" font-size="18.6" text-anchor="middle"  fill="#111">foot</text>
<text x="128.60" y="1122.30" font-size="18.6" text-anchor="middle"  fill="#111">55</text>
<rect x="228.00" y="1170.36" width="7.20" height="21.64" fill="#6d66ff" stroke="#223" stroke-width="0.5"/>
<rect x="235.20" y="1188.91" width="7.20" height="3.09" fill="#6d66ff" stroke="#223" stroke-width="0.5"/>
<rect x="271.20" y="1188.91" width="7.20" height="3.09" fill="#6d66ff" stroke="#223" stroke-width="0.5"/>
<rect x="278.40" y="1170.36" width="7.20" height="21.64" fill="#6d66ff" stroke="#223" stroke-width="0.5"/>
<rect x="285.60" y="1161.09" width="7.20" height="30.91" fill="#6d66ff" stroke="#223" stroke-width="0.5"/>
<rect x="292.80" y="1188.91" width="7.20" height="3.09" fill="#6d66ff" stroke="#223" stroke-width="0.5"/>
<rect x="300.00" y="1161.09" width="7.20" height="30.91" fill="#6d66ff" stroke="#223" stroke-width="0.5"/>
<rect x="307.20" y="1173.45" width="7.20" height="18.55" fill="#6d66ff" stroke="#223" stroke-width="0.5"/>
<rect x="314.40" y="1182.73" width="7.20" height="9.27" fill="#6d66ff" stroke="#223" stroke-width="0.5"/>
<rect x="321.60" y="1182.73" width="7.20" height="9.27" fill="#6d66ff" stroke="#223" stroke-width="0.5"/>
<rect x="328.80" y="1176.55" width="7.20" height="15.45" fill="#6d66ff" stroke="#223" stroke-width="0.5"/>
<rect x="379.20" y="1188.91" width="7.20" height="3.09" fill="#6d66ff" stroke="#223" stroke-width="0.5"/>
<rect x="213.6" y="1022.00" width="180" height="170" fill="none" stroke="#8a8a8a" stroke-width="0.9"/>
<text x="0.00" y="0.00" font-size="12.8" text-anchor="middle" fill="#262626" transform="translate(213.60 1207.90) scale(1 1.1)">0</text>
<text x="0.00" y="0.00" font-size="12.8" text-anchor="middle" fill="#262626" transform="translate(249.60 1207.90) scale(1 1.1)">100</text>
<text x="0.00" y="0.00" font-size="12.8" text-anchor="middle" fill="#262626" transform="translate(285.60 1207.90) scale(1 1.1)">200</text>
<text x="0.00" y="0.00" font-size="12.8" text-anchor="middle" fill="#262626" transform="translate(321.60 1207.90) scale(1 1.1)">300</text>
<text x="0.00" y="0.00" font-size="12.8" text-anchor="middle" fill="#262626" transform="translate(357.60 1207.90) scale(1 1.1)">400</text>
<text x="0.00" y="0.00" font-size="12.8" text-anchor="middle" fill="#262626" transform="translate(393.60 1207.90) scale(1 1.1)">500</text>
<text x="0.00" y="0.00" font-size="12.8" text-anchor="end" fill="#262626" transform="translate(209.4 1196.40) scale(1 1.1)">0</text>
<text x="0.00" y="0.00" font-size="12.8" text-anchor="end" fill="#262626" transform="translate(209.4 1162.40) scale(1 1.1)">0.2</text>
<text x="0.00" y="0.00" font-size="12.8" text-anchor="end" fill="#262626" transform="translate(209.4 1128.40) scale(1 1.1)">0.4</text>
<text x="0.00" y="0.00" font-size="12.8" text-anchor="end" fill="#262626" transform="translate(209.4 1094.40) scale(1 1.1)">0.6</text>
<text x="0.00" y="0.00" font-size="12.8" text-anchor="end" fill="#262626" transform="translate(209.4 1060.40) scale(1 1.1)">0.8</text>
<text x="0.00" y="0.00" font-size="12.8" text-anchor="end" fill="#262626" transform="translate(209.4 1026.40) scale(1 1.1)">1</text>
<path d="M213.60 1192.00v-1.8M213.60 1022.00v1.8M249.60 1192.00v-1.8M249.60 1022.00v1.8M285.60 1192.00v-1.8M285.60 1022.00v1.8M321.60 1192.00v-1.8M321.60 1022.00v1.8M357.60 1192.00v-1.8M357.60 1022.00v1.8M393.60 1192.00v-1.8M393.60 1022.00v1.8M213.6 1192.00h1.8M393.6 1192.00h-1.8M213.6 1158.00h1.8M393.6 1158.00h-1.8M213.6 1124.00h1.8M393.6 1124.00h-1.8M213.6 1090.00h1.8M393.6 1090.00h-1.8M213.6 1056.00h1.8M393.6 1056.00h-1.8M213.6 1022.00h1.8M393.6 1022.00h-1.8" stroke="#777" stroke-width="0.8" fill="none"/>
<rect x="292.4" y="1022.00" width="101.2" height="33.6" fill="#fff" stroke="#555" stroke-width="0.8"/>
<text x="390.00" y="1036.10" font-size="11.5" text-anchor="end" fill="#1a1a1a">Mean: 224.51 mm</text>
<text x="390.00" y="1049.60" font-size="11.5" text-anchor="end" fill="#1a1a1a">Std. Dev: 86.32 mm</text>
<text x="303.60" y="1223.90" font-size="15" text-anchor="middle" textLength="117" lengthAdjust="spacingAndGlyphs" fill="#2a2a2a">Slip distance (mm)</text>
<text x="0.00" y="0.00" font-size="15" text-anchor="middle" fill="#2a2a2a" textLength="68.6" lengthAdjust="spacingAndGlyphs" transform="translate(187.2 1107.00) rotate(-90)">Probability</text>
<g clip-path="url(#hc4)"><g filter="url(#jet)" transform="translate(456.2 1010.40)">
<rect x="-10" y="-10" width="209.8" height="208.5" fill="rgb(10,10,10)"/>
<rect x="-20" y="-20" width="230" height="230" fill="rgb(8,8,8)"/><rect x="-10" y="-10" width="104" height="210" fill="rgb(26,26,26)" filter="url(#b4)"/><rect x="-10" y="60" width="100" height="90" fill="rgb(29,29,29)" filter="url(#b5)"/><polyline points="10,10 11,140" fill="none" stroke="rgb(19,19,19)" stroke-width="4" stroke-linecap="round" filter="url(#b2.5)"/><polyline points="28,50 29,110" fill="none" stroke="rgb(20,20,20)" stroke-width="4" stroke-linecap="round" filter="url(#b2.5)"/><polyline points="40,0 41,80" fill="none" stroke="rgb(22,22,22)" stroke-width="4" stroke-linecap="round" filter="url(#b2.5)"/><polyline points="58,20 59,90" fill="none" stroke="rgb(20,20,20)" stroke-width="4" stroke-linecap="round" filter="url(#b2.5)"/><polyline points="75,30 76,120" fill="none" stroke="rgb(22,22,22)" stroke-width="4" stroke-linecap="round" filter="url(#b2.5)"/><polyline points="88,0 89,60" fill="none" stroke="rgb(19,19,19)" stroke-width="4" stroke-linecap="round" filter="url(#b2.5)"/><polyline points="8,0 8,100" fill="none" stroke="rgb(33,33,33)" stroke-width="3" stroke-linecap="round" filter="url(#b2)"/><polyline points="22,0 22,100" fill="none" stroke="rgb(33,33,33)" stroke-width="3" stroke-linecap="round" filter="url(#b2)"/><polyline points="50,0 50,100" fill="none" stroke="rgb(33,33,33)" stroke-width="3" stroke-linecap="round" filter="url(#b2)"/><polyline points="66,0 66,100" fill="none" stroke="rgb(33,33,33)" stroke-width="3" stroke-linecap="round" filter="url(#b2)"/><polyline points="82,0 82,100" fill="none" stroke="rgb(33,33,33)" stroke-width="3" stroke-linecap="round" filter="url(#b2)"/><polygon points="98,-2 130,-2 134,130 86,130" fill="rgb(26,26,26)" filter="url(#b3)"/><polygon points="99.4,-2 100.5,-2 106,130 85,130" fill="rgb(36,36,36)" filter="url(#b1.5)"/><polygon points="112.5,-2 113.5,-2 120,130 105,130" fill="rgb(36,36,36)" filter="url(#b1.5)"/><polygon points="125.2,-2 126.2,-2 136,130 119,130" fill="rgb(36,36,36)" filter="url(#b1.5)"/><polyline points="99.9,-2 98,40 94,110" fill="none" stroke="rgb(48,48,48)" stroke-width="1.6" stroke-linecap="round" filter="url(#b0.8)"/><polyline points="113,-2 112,110" fill="none" stroke="rgb(43,43,43)" stroke-width="1.6" stroke-linecap="round" filter="url(#b0.8)"/><polyline points="125.7,-2 125.5,40 127,110" fill="none" stroke="rgb(54,54,54)" stroke-width="1.6" stroke-linecap="round" filter="url(#b0.8)"/><polygon points="97,106.5 117,106.5 112,120 92,120" fill="rgb(66,66,66)" filter="url(#b2.2)"/><polygon points="0,140 40,138 90,136 138,140 145,188.5 0,188.5" fill="rgb(61,61,61)" filter="url(#b3)"/><polygon points="64.6,94 75,106 78,130 82,146 44,146 48,130 54,106" fill="rgb(56,56,56)" filter="url(#b3)"/><polygon points="64.6,99 71,108 74,125 77,142 50,142 53,125 58,108" fill="rgb(89,89,89)" filter="url(#b2)"/><rect x="-5" y="145.4" width="93" height="10" fill="rgb(92,92,92)" filter="url(#b1.5)"/><rect x="-5" y="162" width="147" height="12" fill="rgb(94,94,94)" filter="url(#b1.5)"/><rect x="-5" y="181.6" width="71" height="10" fill="rgb(89,89,89)" filter="url(#b1.5)"/><rect x="33" y="151" width="15" height="6.5" fill="rgb(36,36,36)" filter="url(#b1.2)"/><rect x="-5" y="164.5" width="16" height="4" fill="rgb(36,36,36)" filter="url(#b1)"/><rect x="22" y="176" width="30.5" height="5.6" fill="rgb(36,36,36)" filter="url(#b1.2)"/><ellipse cx="108" cy="154.2" rx="26" ry="18" fill="rgb(97,97,97)" filter="url(#b2)"/><ellipse cx="107.3" cy="154.2" rx="20.5" ry="14" fill="rgb(128,128,128)" filter="url(#b2)"/><ellipse cx="107.3" cy="154.5" rx="16.5" ry="11" fill="rgb(153,153,153)" filter="url(#b1.7)"/><ellipse cx="107" cy="154" rx="4" ry="3" fill="rgb(168,168,168)" filter="url(#b1.5)"/>
</g></g>
<rect x="652.6" y="1010.40" width="7.2" height="188.5" fill="url(#cbar)" stroke="#999" stroke-width="0.5"/>
<text x="0.00" y="0.00" font-size="10.4" text-anchor="end" transform="translate(453.3 1202.80) scale(1 1.15)" fill="#111">30</text>
<text x="0.00" y="0.00" font-size="10.4" text-anchor="end" transform="translate(453.3 1178.16) scale(1 1.15)" fill="#111">40</text>
<text x="0.00" y="0.00" font-size="10.4" text-anchor="end" transform="translate(453.3 1153.52) scale(1 1.15)" fill="#111">50</text>
<text x="0.00" y="0.00" font-size="10.4" text-anchor="end" transform="translate(453.3 1128.88) scale(1 1.15)" fill="#111">60</text>
<text x="0.00" y="0.00" font-size="10.4" text-anchor="end" transform="translate(453.3 1104.24) scale(1 1.15)" fill="#111">70</text>
<text x="0.00" y="0.00" font-size="10.4" text-anchor="end" transform="translate(453.3 1079.60) scale(1 1.15)" fill="#111">80</text>
<text x="0.00" y="0.00" font-size="10.4" text-anchor="end" transform="translate(453.3 1054.96) scale(1 1.15)" fill="#111">90</text>
<text x="0.00" y="0.00" font-size="10.4" text-anchor="end" transform="translate(453.3 1030.32) scale(1 1.15)" fill="#111">100</text>
<text x="0.00" y="0.00" font-size="10.4" text-anchor="middle" transform="translate(456.20 1212.50) scale(1 1.15)" fill="#111">0</text>
<text x="0.00" y="0.00" font-size="10.4" text-anchor="middle" transform="translate(503.65 1212.50) scale(1 1.15)" fill="#111">0.5</text>
<text x="0.00" y="0.00" font-size="10.4" text-anchor="middle" transform="translate(551.10 1212.50) scale(1 1.15)" fill="#111">1</text>
<text x="0.00" y="0.00" font-size="10.4" text-anchor="middle" transform="translate(598.55 1212.50) scale(1 1.15)" fill="#111">1.5</text>
<text x="0.00" y="0.00" font-size="10.4" text-anchor="middle" transform="translate(646.00 1212.50) scale(1 1.15)" fill="#111">2</text>
<text x="0.00" y="0.00" font-size="10.8" text-anchor="start" transform="translate(662.6 1203.00) scale(1 1.12)" fill="#111">0</text>
<text x="0.00" y="0.00" font-size="10.8" text-anchor="start" transform="translate(662.6 1173.48) scale(1 1.12)" fill="#111">0.2</text>
<text x="0.00" y="0.00" font-size="10.8" text-anchor="start" transform="translate(662.6 1143.96) scale(1 1.12)" fill="#111">0.4</text>
<text x="0.00" y="0.00" font-size="10.8" text-anchor="start" transform="translate(662.6 1114.44) scale(1 1.12)" fill="#111">0.6</text>
<text x="0.00" y="0.00" font-size="10.8" text-anchor="start" transform="translate(662.6 1084.92) scale(1 1.12)" fill="#111">0.8</text>
<text x="0.00" y="0.00" font-size="10.8" text-anchor="start" transform="translate(662.6 1055.40) scale(1 1.12)" fill="#111">1</text>
<text x="0.00" y="0.00" font-size="10.8" text-anchor="start" transform="translate(662.6 1025.88) scale(1 1.12)" fill="#111">1.2</text>
<text x="551.30" y="1225.50" font-size="12.5" text-anchor="middle" textLength="44" lengthAdjust="spacingAndGlyphs" fill="#111">Time (s)</text>
<text x="0.00" y="0.00" font-size="12.5" text-anchor="middle" textLength="78.7" lengthAdjust="spacingAndGlyphs" transform="translate(431.6 1104.90) rotate(-90)" fill="#111">Frequency (Hz)</text>
<path d="M1.40 29.50H683.80M1.40 93.10H683.80M1.40 320.80H683.80M1.40 548.30H683.80M1.40 775.70H683.80M1.40 1003.70H683.80M1.40 1231.20H683.80M2.10 29.50V1231.20M86.50 29.50V1231.20M170.90 29.50V1231.20M417.80 29.50V1231.20M683.10 29.50V1231.20" stroke="#111" stroke-width="1.45" fill="none"/>
</svg></body></html>
